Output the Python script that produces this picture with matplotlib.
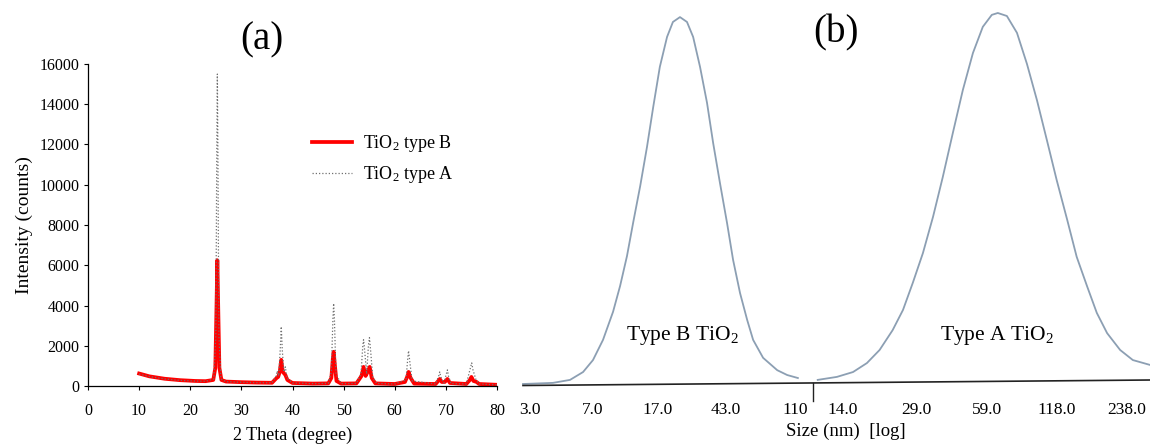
import matplotlib
matplotlib.use("Agg")
import matplotlib.pyplot as plt
from matplotlib.lines import Line2D

plt.rcParams['font.family'] = ['Liberation Serif', 'DejaVu Serif']
plt.rcParams['mathtext.fontset'] = 'custom'
plt.rcParams['mathtext.rm'] = 'Liberation Serif'
plt.rcParams['mathtext.it'] = 'Liberation Serif:italic'

# ---------------- data: panel (a) XRD ----------------
theta_b = [10, 12, 15, 18, 21, 23, 24.5, 24.9, 25.1, 25.3, 25.5, 25.7, 26.1, 27, 30, 33, 36,
           36.9, 37.2, 37.5, 37.8, 38.1, 38.6, 39, 40, 44, 47, 47.6, 47.9, 48.05, 48.3, 48.6,
           49.5, 52.5, 53.5, 53.9, 54.3, 54.6, 55.1, 55.5, 56.2, 60, 62, 62.5, 62.7, 63.1, 63.8,
           68, 68.5, 68.8, 69.2, 69.8, 70.3, 70.8, 74, 74.7, 75.0, 75.4, 76.0, 76.5, 80]
counts_b = [620, 480, 360, 290, 250, 240, 300, 900, 3500, 6250, 3500, 900, 300, 220, 190, 170, 160,
            400, 450, 700, 1300, 700, 550, 300, 150, 120, 130, 400, 1400, 1700, 1000, 250,
            120, 130, 500, 950, 500, 650, 950, 400, 130, 100, 200, 500, 700, 400, 120,
            100, 250, 350, 200, 200, 350, 150, 100, 300, 450, 250, 200, 100, 60]

theta_a = [10, 12, 15, 18, 21, 23, 24.6, 25.0, 25.2, 25.3, 25.4, 25.6, 26.0, 27, 30, 33, 36,
           36.8, 37.0, 37.3, 37.6, 37.8, 38.0, 38.3, 38.6, 38.9, 40, 44, 47, 47.6, 47.9, 48.05,
           48.2, 48.5, 49.5, 52.5, 53.4, 53.75, 53.9, 54.1, 54.5, 54.85, 55.05, 55.3, 55.7, 56.5,
           60, 62.2, 62.55, 62.7, 62.9, 63.4, 68, 68.6, 68.8, 69.0, 69.6, 70.1, 70.3, 70.5, 71,
           74, 74.8, 75.05, 75.3, 75.9, 76.5, 80]
counts_a = [600, 470, 350, 280, 245, 235, 350, 2500, 12000, 15500, 12000, 2500, 350, 215, 185, 165, 160,
            500, 750, 500, 1800, 2950, 1800, 700, 950, 400, 150, 120, 130, 700, 3300, 4100,
            3300, 600, 120, 130, 600, 2000, 2300, 1800, 600, 2000, 2400, 1700, 400, 130,
            100, 300, 1400, 1750, 1300, 250, 100, 500, 700, 450, 150, 600, 800, 500, 120,
            100, 900, 1150, 800, 300, 100, 60]

xticks_a = [0, 10, 20, 30, 40, 50, 60, 70, 80]
yticks_a = [0, 2000, 4000, 6000, 8000, 10000, 12000, 14000, 16000]

# ---------------- data: panel (b) size distributions (% of max) ----------------
size_b = [2.73, 4.10, 5.17, 6.17, 7.06, 8.09, 9.27, 10.2, 11.2, 12.2, 13.4, 14.7, 16.0, 17.5,
          19.3, 20.9, 23.0, 25.3, 27.5, 30.2, 33.2, 36.1, 39.6, 43.6, 47.3, 52.0, 57.3, 62.1,
          71.1, 86.1, 98.6, 114]
pct_b = [0.0, 0.3, 1.1, 3.2, 6.4, 11.8, 19.3, 26.2, 34.2, 43.3, 52.9, 63.4, 74.1, 84.8,
         92.8, 96.8, 98.1, 96.8, 92.8, 84.8, 75.2, 64.4, 53.7, 43.0, 33.2, 24.3, 17.1, 11.8,
         7.0, 3.7, 2.4, 1.6]
size_a = [10.9, 13.2, 15.5, 17.8, 20.2, 23.0, 25.5, 28.1, 31.1, 34.4, 37.9, 41.9, 46.3, 51.2,
          56.5, 61.8, 65.6, 71.8, 79.4, 87.7, 96.9, 107, 118, 131, 144, 160, 176, 195, 222,
          252, 299]
pct_a = [1.1, 1.9, 3.2, 5.6, 9.1, 14.4, 19.8, 27.0, 35.0, 44.7, 55.3, 67.1, 78.6, 88.5,
         95.5, 98.7, 99.2, 98.4, 93.9, 85.6, 75.9, 65.2, 54.5, 43.9, 34.0, 26.0, 19.0, 13.6,
         9.1, 6.4, 5.1]

ticks_b = [3.0, 7.0, 17.0, 43.0, 110]
ticklabels_b = ['3.0', '7.0', '17.0', '43.0', '110']
ticks_a = [14.0, 29.0, 59.0, 118.0, 238.0]
ticklabels_a = ['14.0', '29.0', '59.0', '118.0', '238.0']

W, H = 1150, 444
fig = plt.figure(figsize=(W / 100, H / 100), dpi=100)


def fx(px):
    return px / W


def fy(py):
    return 1 - py / H


# ---------------- panel (a) ----------------
ax = fig.add_axes([fx(88), fy(386), fx(497) - fx(88), fy(64) - fy(386)])
ax.plot(theta_b, counts_b, color='#ff0000', lw=2.7, solid_joinstyle='round',
        label='TiO$_2$ type B', zorder=2)
ax.plot(theta_a, counts_a, color='#707070', lw=0.9, linestyle=(0, (1, 1.6)),
        label='TiO$_2$ type A', zorder=3)
ax.set_xlim(0, 80)
ax.set_ylim(0, 16000)
ax.set_xticks(xticks_a)
ax.set_yticks(yticks_a)
ax.spines['top'].set_visible(False)
ax.spines['right'].set_visible(False)
for s in ('left', 'bottom'):
    ax.spines[s].set_linewidth(0.9)
ax.tick_params(axis='both', direction='out', length=3, width=0.8, labelsize=11.5)
ax.tick_params(axis='x', pad=9)
ax.tick_params(axis='y', pad=3)
ax.set_ylabel('Intensity (counts)', fontsize=14)
ax.yaxis.set_label_coords(-0.135, 0.5)
ax.set_xlabel('2 Theta (degree)', fontsize=13)
ax.xaxis.set_label_coords(0.499, -0.125)
leg = ax.legend(loc='upper left', bbox_to_anchor=(fx(312), fy(133)),
                bbox_transform=fig.transFigure, frameon=False, fontsize=13,
                borderpad=0, borderaxespad=0, handlelength=2.2, handletextpad=0.6,
                labelspacing=0.55)
fig.text(fx(262), fy(40), '(a)', fontsize=28, ha='center', va='center')

# ---------------- panel (b) ----------------
curve_color = '#8c9fb3'
ax1 = fig.add_axes([fx(523), fy(384), fx(813) - fx(523), fy(10) - fy(384)])
ax2 = fig.add_axes([fx(813), fy(384), fx(1150) - fx(813), fy(10) - fy(384)])
for a, sz, pc, tk, tl, lim in [
        (ax1, size_b, pct_b, ticks_b, ticklabels_b, (2.73, 140)),
        (ax2, size_a, pct_a, ticks_a, ticklabels_a, (10.4, 299))]:
    a.plot(sz, pc, color=curve_color, lw=1.3, solid_joinstyle='round', clip_on=False)
    a.set_xscale('log')
    a.set_xlim(*lim)
    a.set_ylim(0, 100)
    a.set_xticks(tk)
    a.set_xticklabels(tl)
    a.minorticks_off()
    a.tick_params(axis='x', length=0, pad=13, labelsize=12.5)
    a.set_yticks([])
    for s in a.spines.values():
        s.set_visible(False)
    a.patch.set_alpha(0)

ax1.text(0.55, 0.13, 'Type B TiO$_2$', transform=ax1.transAxes, fontsize=15.5,
         ha='center', va='center')
ax2.text(0.545, 0.13, 'Type A TiO$_2$', transform=ax2.transAxes, fontsize=15.5,
         ha='center', va='center')

# baseline and divider tick of panel (b)
fig.add_artist(Line2D([fx(523), fx(1150)], [fy(385.5), fy(380)], color='#222222', lw=1.2))
fig.add_artist(Line2D([fx(813), fx(813)], [fy(383), fy(401)], color='#222222', lw=1.0))

fig.text(fx(846), fy(431), 'Size (nm)  [log]', fontsize=13.5, ha='center', va='center')
fig.text(fx(836), fy(33), '(b)', fontsize=28, ha='center', va='center')

fig.savefig('out.png', dpi=100)
